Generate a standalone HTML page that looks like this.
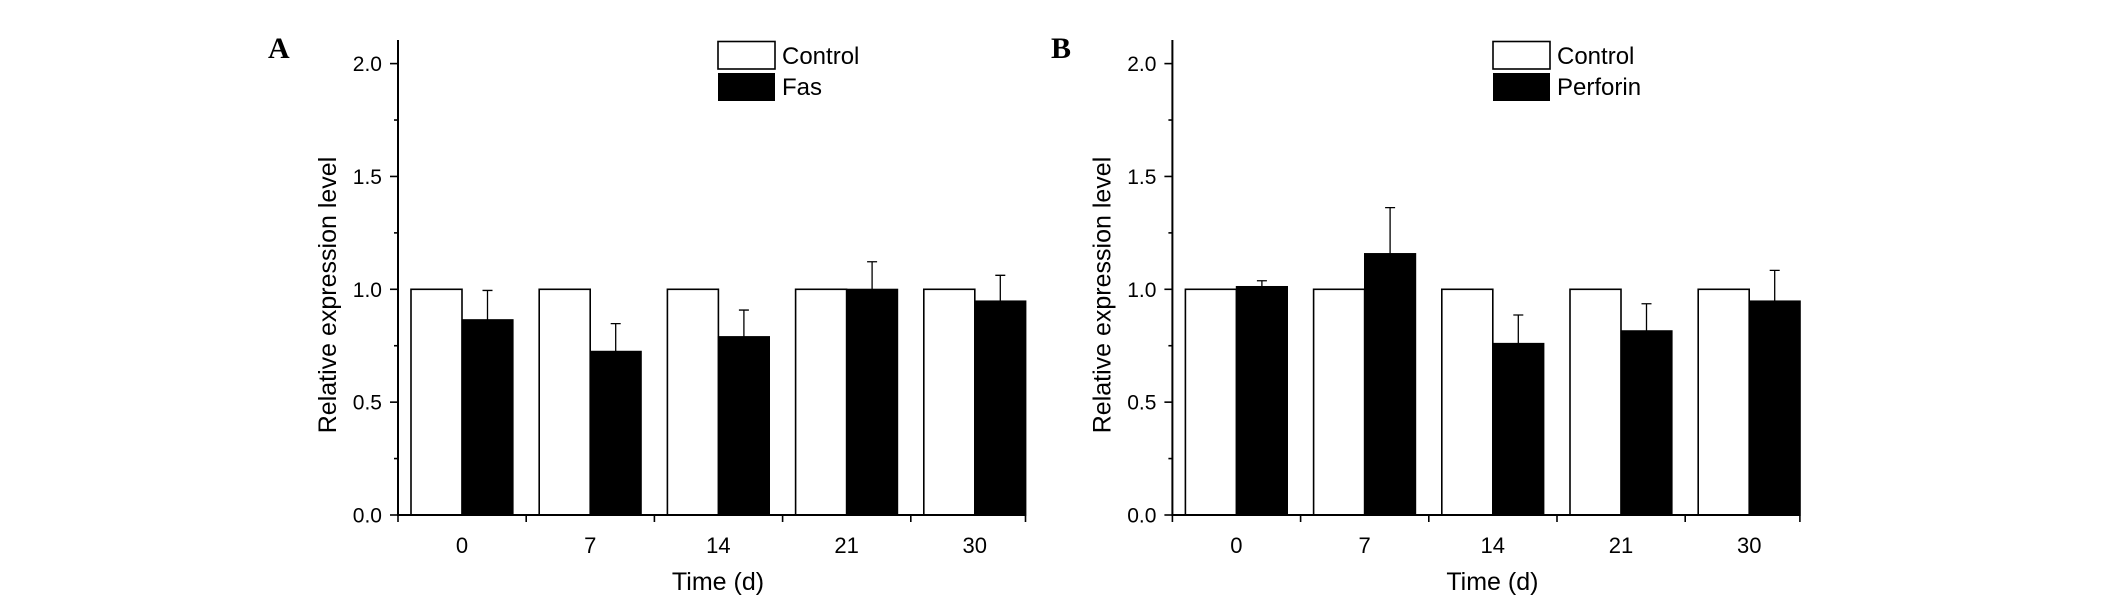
<!DOCTYPE html>
<html><head><meta charset="utf-8">
<style>
html,body{margin:0;padding:0;background:#fff;}
svg{display:block;}
text{font-family:"Liberation Sans",sans-serif;fill:#000;}
</style></head>
<body>
<svg id="chart" width="2126" height="605" viewBox="0 0 2126 605" xmlns="http://www.w3.org/2000/svg"></svg>
<script>
const categories = ["0","7","14","21","30"];
const controlA = [1,1,1,1,1];
const fasValues = [0.865,0.725,0.79,1.0,0.948];
const fasErrors = [0.13,0.123,0.118,0.122,0.114];
const controlB = [1,1,1,1,1];
const perforinValues = [1.012,1.158,0.76,0.816,0.948];
const perforinErrors = [0.026,0.204,0.126,0.12,0.136];
const yTicks = ["0.0","0.5","1.0","1.5","2.0"];

const NS = "http://www.w3.org/2000/svg";
const svg = document.getElementById("chart");
function mk(tag, attrs, parent){
  const e = document.createElementNS(NS, tag);
  for (const k in attrs) e.setAttribute(k, attrs[k]);
  (parent||svg).appendChild(e);
  return e;
}
function yScale(v){ return 515 - v*225.7; }

function panel(ox, letter, ctrl, vals, errs, seriesName, legendX){
  const g = mk("g", {});
  
  
  const axX = ox, axEnd = ox + 627.5, step = 128.2;
  function xCenter(i){ return ox + 64 + i*step; }

  categories.forEach((c,i)=>{
    const cx = xCenter(i);
    const r1 = mk("rect", {x:cx-51, y:yScale(ctrl[i]), width:51, height:yScale(0)-yScale(ctrl[i]), fill:"#fff", stroke:"#000", "stroke-width":1.6}, g);
    
    
    const r2 = mk("rect", {x:cx, y:yScale(vals[i]), width:51, height:yScale(0)-yScale(vals[i]), fill:"#000", stroke:"#000", "stroke-width":1.2}, g);
    
    
    const ex = cx + 25.5, top = yScale(vals[i]+errs[i]);
    const el = mk("path", {d:`M${ex},${yScale(vals[i])}V${top}M${ex-5},${top}H${ex+5}`, stroke:"#000", "stroke-width":1.3, fill:"none"}, g);
    
    
    const t = mk("text", {x:cx, y:553, "font-size":22, "text-anchor":"middle"}, g);
    t.textContent = c;
    
    
  });
  const ax = mk("path", {d:`M${axX},40V${yScale(0)}H${axEnd}`, stroke:"#000", "stroke-width":2, fill:"none"}, g);
  
  
  for (let k=0;k<=5;k++){
    const x = Math.min(axX + k*step, axEnd);
    const tk = mk("line", {x1:x, x2:x, y1:515, y2:522, stroke:"#000", "stroke-width":1.6}, g);
    
    
  }
  for (let k=0;k<=8;k++){
    const v = k*0.25, y = yScale(v), major = k%2===0;
    const tk = mk("line", {x1:axX-(major?8:4), x2:axX, y1:y, y2:y, stroke:"#000", "stroke-width":1.6}, g);
    
    
  }
  yTicks.forEach((lab,i)=>{
    const t = mk("text", {x:axX-16, y:yScale(i*0.5)+7.5, "font-size":21, "text-anchor":"end"}, g);
    t.textContent = lab;
    
    
  });
  const yt = mk("text", {x:0, y:0, "font-size":25, "text-anchor":"middle", transform:`translate(${axX-62},295) rotate(-90)`}, g);
  yt.textContent = "Relative expression level";
  
  
  const xt = mk("text", {x:axX+320, y:590, "font-size":25, "text-anchor":"middle"}, g);
  xt.textContent = "Time (d)";
  
  
  const l1 = mk("rect", {x:legendX, y:41.5, width:57, height:27.5, fill:"#fff", stroke:"#000", "stroke-width":1.6}, g);
  
  
  const l2 = mk("rect", {x:legendX, y:73, width:57, height:28, fill:"#000"}, g);
  
  
  const lt1 = mk("text", {x:legendX+64, y:64, "font-size":24}, g);
  lt1.textContent = "Control";
  
  
  const lt2 = mk("text", {x:legendX+64, y:95, "font-size":24}, g);
  lt2.textContent = seriesName;
  
  
  const pl = mk("text", {x:letter==="A"?268:1051, y:58, "font-size":30, "font-weight":"bold", style:'font-family:"Liberation Serif",serif'}, g);
  pl.textContent = letter;
  
  
}
panel(398, "A", controlA, fasValues, fasErrors, "Fas", 718);
panel(1172.4, "B", controlB, perforinValues, perforinErrors, "Perforin", 1493);
</script>
</body></html>
